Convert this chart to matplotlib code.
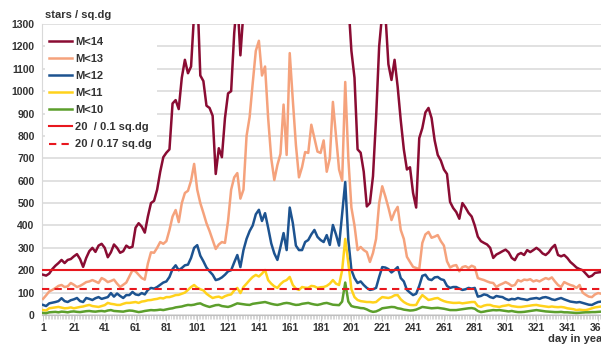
import numpy as np
import matplotlib
matplotlib.use("Agg")
import matplotlib.pyplot as plt

plt.rcParams['font.family'] = ['Liberation Sans', 'DejaVu Sans']
plt.rcParams['font.weight'] = 'bold'

# day of year, sampled every second day
days = np.arange(1, 366, 2)

m14 = [180, 176, 185, 205, 220, 232, 246, 232, 246, 250,
       262, 272, 250, 215, 255, 285, 300, 282, 310, 318,
       300, 258, 280, 315, 300, 278, 285, 310, 300, 305,
       390, 410, 395, 368, 440, 500, 510, 560, 640, 705,
       725, 740, 945, 960, 920, 1060, 1140, 1080, 1110, 1350,
       1450, 1070, 1045, 935, 925, 890, 630, 745, 705, 880,
       990, 1000, 1260, 1420, 1160, 1360, 1550, 1750, 1900, 2100,
       2250, 2300, 2200, 2000, 1850, 1750, 1700, 1800, 1950, 2100,
       2200, 2050, 1900, 1800, 1750, 1800, 1850, 1900, 1850, 1800,
       1750, 1800, 1850, 1900, 1950, 1900, 1800, 1900, 1700, 1400,
       1180, 1060, 740, 725, 640, 485, 500, 620, 880, 1200,
       1350, 1350, 1120, 1050, 1140, 1020, 870, 740, 650, 660,
       545, 480, 790, 835, 905, 925, 880, 780, 715, 690,
       650, 630, 505, 478, 460, 430, 500, 480, 456, 440,
       400, 350, 330, 322, 315, 300, 255, 270, 277, 285,
       292, 280, 255, 245, 270, 277, 268, 290, 281, 290,
       300, 290, 275, 268, 280, 300, 313, 268, 262, 268,
       255, 237, 225, 212, 205, 200, 185, 170, 175, 188,
       190, 192, 195]

m13 = [72, 88, 105, 112, 120, 130, 134, 125, 128, 143,
       135, 125, 130, 138, 147, 150, 156, 150, 143, 165,
       158, 147, 152, 158, 140, 125, 135, 145, 172, 200,
       195, 180, 165, 158, 230, 280, 278, 300, 326, 318,
       330, 380, 440, 469, 415, 500, 545, 555, 600, 675,
       560, 500, 456, 410, 375, 335, 295, 315, 326, 322,
       420, 560, 615, 634, 520, 560, 800, 885, 1036, 1180,
       1225, 1070, 1110, 880, 700, 603, 670, 720, 940, 715,
       1170, 960, 760, 615, 661, 728, 724, 850, 790, 730,
       724, 780, 640, 700, 952, 800, 650, 600, 1041, 700,
       480, 400, 290, 304, 290, 281, 237, 277, 340, 500,
       575, 530, 480, 424, 460, 483, 380, 340, 260, 237,
       215, 210, 205, 322, 360, 371, 345, 350, 357, 330,
       310, 240, 212, 220, 223, 195, 214, 218, 210, 220,
       214, 165, 160, 156, 150, 145, 143, 125, 134, 140,
       147, 140, 130, 134, 156, 150, 158, 156, 160, 150,
       155, 150, 158, 165, 160, 168, 150, 134, 125, 147,
       140, 134, 130, 121, 134, 100, 90, 82, 80, 92,
       98, 95, 100]

m12 = [45, 40, 52, 55, 58, 62, 75, 62, 58, 66,
       70, 76, 62, 58, 76, 72, 67, 75, 80, 72,
       76, 80, 98, 82, 96, 85, 76, 89, 89, 103,
       92, 89, 98, 92, 112, 121, 118, 125, 135, 145,
       150, 170, 205, 222, 200, 210, 222, 225, 255, 300,
       312, 265, 240, 212, 195, 180, 156, 160, 168, 180,
       195, 200, 235, 268, 214, 290, 340, 375, 400, 450,
       470, 420, 455, 390, 320, 275, 246, 304, 366, 290,
       480, 411, 310, 290, 290, 326, 335, 360, 380, 349,
       335, 326, 357, 313, 402, 360, 310, 450, 594, 335,
       201, 165, 143, 150, 134, 121, 112, 115, 121, 170,
       214, 212, 205, 190, 201, 214, 165, 150, 112, 100,
       89, 95, 130, 175, 180, 160, 156, 168, 170, 160,
       156, 130, 121, 125, 125, 118, 112, 115, 121, 118,
       121, 82, 85, 92, 89, 80, 76, 85, 82, 80,
       72, 67, 72, 70, 76, 72, 70, 67, 72, 74,
       76, 72, 78, 80, 76, 70, 67, 72, 76, 70,
       65, 60, 58, 56, 58, 54, 50, 46, 45, 52,
       58, 60, 58]

m11 = [22, 20, 30, 32, 34, 36, 33, 30, 31, 34,
       30, 33, 36, 38, 42, 45, 40, 38, 36, 40,
       44, 54, 50, 48, 45, 45, 50, 54, 54, 56,
       58, 54, 60, 62, 66, 67, 70, 72, 76, 74,
       80, 80, 84, 89, 90, 95, 100, 112, 125, 134,
       122, 115, 110, 95, 85, 76, 80, 82, 76, 84,
       89, 92, 110, 121, 98, 125, 140, 156, 170, 179,
       172, 185, 201, 156, 140, 128, 121, 138, 150, 156,
       170, 134, 118, 112, 125, 122, 121, 130, 128, 121,
       124, 125, 130, 140, 156, 140, 134, 200, 340, 232,
       115, 80, 67, 62, 60, 58, 58, 56, 58, 70,
       80, 78, 76, 80, 88, 89, 70, 58, 50, 45,
       44, 45, 70, 89, 78, 67, 70, 74, 76, 68,
       62, 58, 56, 54, 54, 55, 52, 54, 56, 58,
       58, 40, 36, 42, 45, 45, 40, 38, 36, 40,
       42, 45, 40, 38, 36, 36, 38, 40, 42, 44,
       45, 42, 40, 38, 36, 38, 36, 35, 36, 34,
       30, 28, 26, 22, 24, 22, 22, 25, 30, 34,
       36, 38, 36]

m10 = [9, 8, 12, 13, 14, 12, 15, 14, 12, 15,
       16, 14, 13, 15, 17, 18, 16, 15, 17, 18,
       16, 20, 22, 18, 17, 16, 15, 18, 20, 19,
       16, 13, 15, 18, 20, 22, 21, 22, 24, 22,
       25, 28, 30, 34, 36, 38, 42, 45, 44, 46,
       50, 52, 45, 40, 36, 40, 44, 45, 40, 38,
       36, 40, 46, 52, 50, 48, 46, 45, 50, 52,
       54, 56, 58, 54, 50, 47, 45, 48, 52, 54,
       52, 48, 45, 46, 50, 52, 54, 50, 47, 45,
       48, 52, 54, 50, 46, 45, 44, 60, 145, 60,
       40, 36, 34, 31, 30, 25, 18, 14, 16, 22,
       30, 32, 34, 36, 35, 30, 28, 24, 22, 20,
       21, 24, 30, 36, 34, 32, 30, 31, 32, 30,
       28, 25, 22, 22, 22, 24, 26, 28, 30, 31,
       28, 18, 13, 15, 18, 20, 22, 21, 22, 20,
       18, 16, 18, 15, 13, 13, 14, 16, 18, 20,
       22, 20, 18, 16, 15, 14, 13, 13, 14, 12,
       12, 11, 10, 9, 10, 11, 12, 12, 13, 13,
       14, 15, 14]

series = [("M<14", m14, "#8a0c33"),
          ("M<13", m13, "#f5a27c"),
          ("M<12", m12, "#1d5390"),
          ("M<11", m11, "#ffd21c"),
          ("M<10", m10, "#5c9f2c")]

# 20 stars per field of 0.1 and 0.17 sq.dg
limit_01 = 20 / 0.1
limit_017 = 20 / 0.17

x_ticks = list(range(1, 366, 20))
y_ticks = list(range(0, 1301, 100))

text_col = "#333333"
grid_col = "#d9d9d9"

fig = plt.figure(figsize=(6.01, 3.45), dpi=100)
ax = fig.add_axes([41.5 / 601, 30 / 345, 564.3 / 601, 291 / 345])

for name, vals, col in series:
    assert len(vals) == len(days)
    ax.plot(days, vals, color=col, lw=1.8, label=name, zorder=3)

ax.axhline(limit_01, color="#e8171e", lw=1.5, label="20  / 0.1 sq.dg", zorder=4)
ax.axhline(limit_017, color="#e8171e", lw=1.5, ls=(0, (3.5, 2.5)),
           label="20 / 0.17 sq.dg", zorder=4)

ax.set_xlim(0, 366)
ax.set_ylim(0, 1300)
ax.set_xticks(x_ticks)
ax.set_xticks(range(1, 366), minor=True)
ax.set_yticks(y_ticks)
ax.yaxis.grid(True, color=grid_col, lw=1.1, zorder=0)
ax.set_axisbelow(True)

for side in ("top", "right"):
    ax.spines[side].set_visible(False)
ax.spines["left"].set_color(grid_col)
ax.spines["bottom"].set_color("#bfbfbf")

ax.tick_params(axis="y", length=0, pad=5, labelsize=7.5, labelcolor=text_col)
ax.tick_params(axis="x", which="major", length=4, width=0.6, color="#bfbfbf",
               pad=2, labelsize=7.5, labelcolor=text_col)
ax.tick_params(axis="x", which="minor", length=3, width=0.5, color="#c8c8c8")

leg = ax.legend(loc="upper left", bbox_to_anchor=(0.0, 0.983), frameon=True,
                facecolor="white", edgecolor="none", framealpha=1,
                fontsize=8, handlelength=2.0, handletextpad=0.35,
                labelspacing=0.64, borderpad=0.4, borderaxespad=0.3)
for t in leg.get_texts():
    t.set_color(text_col)
leg.set_zorder(5)

fig.text(45 / 601, 1 - 15 / 345, "stars / sq.dg", fontsize=8, color=text_col,
         va="center", ha="left")
fig.text(548 / 601, 1 - 339 / 345, "day in year", fontsize=8, color=text_col,
         va="center", ha="left")

fig.savefig("out.png", dpi=100)
